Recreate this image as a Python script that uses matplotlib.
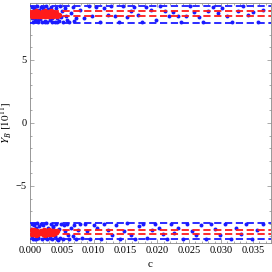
import matplotlib
matplotlib.use("Agg")
import matplotlib.pyplot as plt
from matplotlib.ticker import MultipleLocator

plt.rcParams['font.family'] = ['Liberation Serif', 'DejaVu Serif']
plt.rcParams['mathtext.fontset'] = 'stix'

# blue points, upper band
blue_top_c = [0.0003,0.0005,0.0007,0.0009,0.0011,0.0013,0.0015,0.0004,0.0006,0.0008,0.0010,0.0012,
              0.0017,0.0019,0.0021,0.0023,0.0025,0.0027,0.0029,0.0031,0.0033,0.0035,0.0037,0.0039,
              0.0041,0.0043,0.0045,0.0047,0.0049,0.0052,0.0055,0.0058,0.0061,0.0064,0.0067,0.0070,
              0.0073,0.0002,0.0016,0.0024,0.0034,0.0042,0.0050,0.0056,
              0.0078,0.0085,0.0092,0.0098,0.0104,0.0110,0.0116,0.0122,0.0128,0.0134,0.0140,0.0146,
              0.0152,0.0158,0.0164,0.0170,0.0176,0.0182,0.0190,0.0198,0.0205,0.0212,0.0218,0.0225,
              0.0232,0.0238,0.0245,0.0252,0.0258,0.0265,0.0272,0.0280,0.0288,0.0295,0.0302,0.0310,
              0.0318,0.0326,0.0334,0.0342,0.0350,0.0358,0.0366]
blue_top_y = [9.2,8.0,9.1,8.1,9.25,8.05,9.0,8.3,8.9,8.2,8.95,8.15,
              9.2,8.0,9.1,8.1,9.25,7.98,9.05,8.2,9.2,8.05,8.9,8.0,
              9.15,8.3,8.1,9.25,8.4,8.0,9.1,8.2,8.0,8.7,9.2,8.1,
              8.3,8.6,8.25,8.05,8.35,7.98,8.9,8.5,
              9.0,8.3,9.25,8.5,9.2,8.05,9.1,8.6,9.25,8.45,8.0,9.3,
              8.4,8.9,9.2,8.55,8.0,9.2,8.95,8.2,9.3,8.9,8.5,8.8,
              8.5,8.0,8.45,9.3,8.8,8.4,8.05,8.9,9.2,8.75,9.1,8.5,
              8.05,8.9,9.25,8.6,8.8,8.0,9.0]

# blue points, lower band
blue_bot_c = [0.0003,0.0005,0.0007,0.0009,0.0011,0.0013,0.0015,0.0004,0.0006,0.0008,0.0010,0.0012,
              0.0017,0.0019,0.0021,0.0023,0.0025,0.0027,0.0029,0.0031,0.0033,0.0035,0.0037,0.0039,
              0.0041,0.0043,0.0045,0.0047,0.0049,0.0052,0.0055,0.0058,0.0061,0.0064,0.0067,0.0070,
              0.0073,0.0076,0.0079,0.0082,0.0002,0.0018,0.0026,0.0036,0.0044,0.0053,0.0060,
              0.0086,0.0090,0.0095,0.0100,0.0105,0.0111,0.0117,0.0123,0.0129,0.0135,0.0141,0.0147,
              0.0153,0.0159,0.0165,0.0171,0.0177,0.0184,0.0191,0.0197,0.0203,0.0209,0.0215,0.0221,
              0.0227,0.0233,0.0240,0.0247,0.0254,0.0261,0.0268,0.0276,0.0284,0.0291,0.0299,0.0307,
              0.0315,0.0323,0.0331,0.0340,0.0349,0.0357,0.0366]
blue_bot_y = [-8.0,-9.2,-8.1,-9.25,-7.98,-9.1,-8.2,-9.0,-8.05,-9.2,-8.3,-9.15,
              -8.0,-9.25,-8.1,-9.05,-7.98,-9.2,-8.3,-9.1,-8.0,-9.25,-8.15,-9.0,
              -8.05,-9.2,-8.4,-9.1,-8.0,-9.25,-8.6,-8.05,-9.2,-8.3,-9.0,-8.1,
              -9.25,-8.5,-8.0,-9.1,-8.4,-8.7,-9.15,-8.25,-9.3,-8.1,-8.9,
              -8.0,-8.6,-9.2,-8.1,-8.3,-9.25,-8.0,-8.5,-8.9,-8.1,-9.2,-8.6,
              -7.98,-8.9,-9.25,-8.2,-8.05,-9.1,-8.5,-8.0,-8.35,-8.8,-9.2,-8.05,
              -8.7,-8.3,-9.25,-8.0,-8.6,-8.9,-8.1,-9.2,-8.0,-8.4,-8.9,-8.05,
              -9.25,-8.3,-8.8,-8.0,-9.2,-8.5,-8.05]

# red points, upper band
red_top_c = [0.0003,0.0005,0.0007,0.0009,0.0011,0.0013,0.0004,0.0006,0.0008,0.0010,0.0012,0.0014,
             0.0020,0.0022,0.0024,0.0026,0.0028,0.0030,0.0032,0.0034,0.0036,0.0038,0.0040,0.0042,
             0.0021,0.0025,0.0029,0.0033,0.0037,0.0041,0.0016,0.0018,0.0045,0.0027,0.0031]
red_top_y = [8.45,8.8,8.6,8.85,8.5,8.7,8.75,8.5,8.65,8.55,8.8,8.45,
             8.8,8.5,8.85,8.45,8.7,8.8,8.55,8.75,8.5,8.7,8.6,8.45,
             8.65,8.6,8.5,8.85,8.65,8.75,8.6,8.5,8.55,8.75,8.45]

# red points, lower band
red_bot_c = [0.0003,0.0005,0.0007,0.0009,0.0011,0.0013,0.0004,0.0006,0.0008,0.0010,0.0012,
             0.0018,0.0020,0.0022,0.0024,0.0026,0.0028,0.0030,0.0032,0.0034,0.0036,0.0038,0.0040,
             0.0021,0.0025,0.0029,0.0033,0.0037,0.0016,0.0043]
red_bot_y = [-8.5,-8.85,-8.6,-8.9,-8.55,-8.75,-8.8,-8.5,-8.7,-8.6,-8.85,
             -8.55,-8.85,-8.5,-8.9,-8.6,-8.75,-8.5,-8.8,-8.6,-8.85,-8.55,-8.7,
             -8.7,-8.65,-8.85,-8.55,-8.75,-8.65,-8.6]

blue_levels = [9.3, 7.95, -7.95, -9.25]
red_levels = [8.85, 8.45, -8.5, -8.85]

xticks = [0.000, 0.005, 0.010, 0.015, 0.020, 0.025, 0.030, 0.035]
xticklabels = ['0.000', '0.005', '0.010', '0.015', '0.020', '0.025', '0.030', '0.035']
yticks = [-5, 0, 5]

fig = plt.figure(figsize=(2.72, 2.72), dpi=100)
ax = fig.add_axes([0.110, 0.107, 0.885, 0.882])

ax.scatter(blue_top_c, blue_top_y, s=8, color='#1a1aff', linewidths=0, zorder=2)
ax.scatter(blue_bot_c, blue_bot_y, s=8, color='#1a1aff', linewidths=0, zorder=2)
ax.scatter(red_top_c, red_top_y, s=16, color='#ff1a1a', linewidths=0, zorder=3)
ax.scatter(red_bot_c, red_bot_y, s=16, color='#ff1a1a', linewidths=0, zorder=3)

for lv in blue_levels:
    ax.axhline(lv, color='#1a1aff', lw=1.3, dashes=(4, 2), zorder=4)
for lv in red_levels:
    ax.axhline(lv, color='#ff1a1a', lw=1.3, dashes=(4, 2), zorder=4)

ax.set_xlim(0.0, 0.0378)
ax.set_ylim(-9.52, 9.52)
ax.set_xticks(xticks)
ax.set_xticklabels(xticklabels)
ax.set_yticks(yticks)
ax.xaxis.set_minor_locator(MultipleLocator(0.001))
ax.yaxis.set_minor_locator(MultipleLocator(1))
ax.tick_params(which='both', direction='in', top=True, right=True, labelsize=7.5,
               color='#888888', width=0.5, pad=2.5)
ax.tick_params(which='major', length=3)
ax.tick_params(which='minor', length=1.5)
for sp in ax.spines.values():
    sp.set_color('#888888')
    sp.set_linewidth(0.6)

ax.set_xlabel('c', fontsize=8, labelpad=3)
ax.set_ylabel(r'$Y_B\ [10^{11}]$', fontsize=8, labelpad=1)

fig.savefig('out.png', dpi=100)
